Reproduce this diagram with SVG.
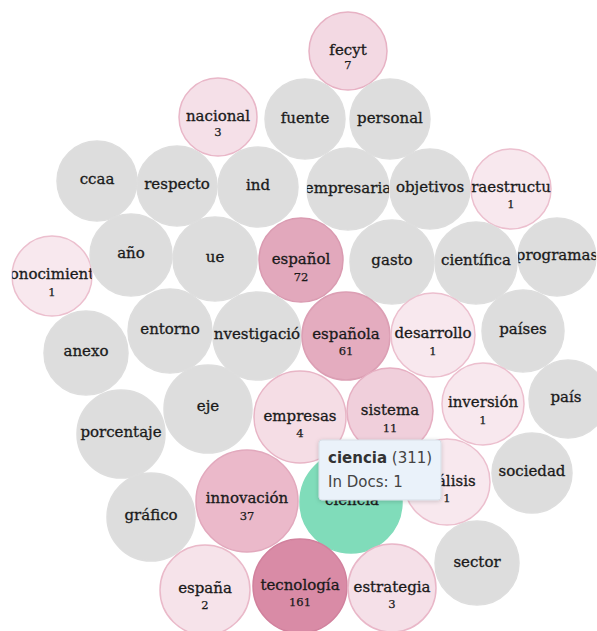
<svg xmlns="http://www.w3.org/2000/svg" width="597" height="631" viewBox="0 0 597 631">
  <style>
    .node circle { stroke-width: 1.5; }
    .g { fill: #dddddd; stroke: #dedede; }
    .c1 { fill: #f8e8ee; stroke: #ecbfce; }
    .c2 { fill: #f6e3ea; stroke: #eab9c9; }
    .c3 { fill: #f5e0e8; stroke: #e9b7c8; }
    .c4 { fill: #f5dde5; stroke: #e8b5c6; }
    .c7 { fill: #f3d9e3; stroke: #e7b2c4; }
    .c11 { fill: #f0cfdb; stroke: #e6afc2; }
    .c37 { fill: #ebb9ca; stroke: #e2a9bd; }
    .c61 { fill: #e4acbf; stroke: #dc9fb4; }
    .c72 { fill: #e2a8bc; stroke: #da9bb1; }
    .c161 { fill: #d98ba6; stroke: #d1819d; }
    .sel { fill: #80dcba; stroke: #80dcba; }
    .lbl { font-family: "DejaVu Serif", "Liberation Serif", serif; font-size: 15px; fill: #1a1a1a; stroke: #1a1a1a; stroke-width: 0.3; text-anchor: middle; }
    .cnt { font-family: "DejaVu Serif", "Liberation Serif", serif; font-size: 11.5px; fill: #1a1a1a; stroke: #1a1a1a; stroke-width: 0.25; text-anchor: middle; }
    .tip { font-family: "DejaVu Sans", "Liberation Sans", sans-serif; font-size: 15px; fill: #444; }
  </style>
  <defs>
    <clipPath id="clip-conocimiento"><circle cx="52" cy="276" r="40"/></clipPath>
    <clipPath id="clip-infraestructura"><circle cx="511" cy="189" r="40"/></clipPath>
    <clipPath id="clip-investigacion"><circle cx="257" cy="336" r="44"/></clipPath>
    <clipPath id="clip-programas"><circle cx="557" cy="257" r="39"/></clipPath>
    <clipPath id="clip-empresaria"><circle cx="348" cy="189" r="41"/></clipPath>
    <filter id="tip-shadow" x="-10%" y="-10%" width="130%" height="140%">
      <feDropShadow dx="0" dy="1" stdDeviation="2" flood-color="#000" flood-opacity="0.18"/>
    </filter>
  </defs>

  <!-- bubbles -->
  <g id="nodes">
    <g id="n-fecyt" class="node"><circle class="c7" cx="348" cy="51" r="39"/><text class="lbl" x="348" y="55">fecyt</text><text class="cnt" x="348" y="69">7</text></g>
    <g id="n-nacional" class="node"><circle class="c3" cx="218" cy="117" r="39"/><text class="lbl" x="218" y="121">nacional</text><text class="cnt" x="218" y="136">3</text></g>
    <g id="n-fuente" class="node"><circle class="g" cx="305" cy="119" r="40"/><text class="lbl" x="305" y="123">fuente</text></g>
    <g id="n-personal" class="node"><circle class="g" cx="390" cy="119" r="40"/><text class="lbl" x="390" y="123">personal</text></g>
    <g id="n-ccaa" class="node"><circle class="g" cx="97" cy="181" r="40"/><text class="lbl" x="97" y="184">ccaa</text></g>
    <g id="n-respecto" class="node"><circle class="g" cx="177" cy="186" r="40"/><text class="lbl" x="177" y="189">respecto</text></g>
    <g id="n-ind" class="node"><circle class="g" cx="258" cy="187" r="40"/><text class="lbl" x="258" y="190">ind</text></g>
    <g id="n-empresaria" class="node"><circle class="g" cx="348" cy="189" r="41"/><text class="lbl" x="348" y="193" clip-path="url(#clip-empresaria)">empresaria</text></g>
    <g id="n-objetivos" class="node"><circle class="g" cx="430" cy="189" r="40"/><text class="lbl" x="430" y="192">objetivos</text></g>
    <g id="n-infraestructura" class="node"><circle class="c1" cx="511" cy="189" r="40"/><text class="lbl" x="511" y="192" clip-path="url(#clip-infraestructura)">raestructu</text><text class="cnt" x="511" y="208">1</text></g>
    <g id="n-conocimiento" class="node"><circle class="c1" cx="52" cy="276" r="40"/><text class="lbl" x="52" y="279" clip-path="url(#clip-conocimiento)">onocimient</text><text class="cnt" x="52" y="296">1</text></g>
    <g id="n-ano" class="node"><circle class="g" cx="131" cy="255" r="41"/><text class="lbl" x="131" y="258">año</text></g>
    <g id="n-ue" class="node"><circle class="g" cx="215" cy="259" r="42"/><text class="lbl" x="215" y="262">ue</text></g>
    <g id="n-espanol" class="node"><circle class="c72" cx="301" cy="260" r="42"/><text class="lbl" x="301" y="264">español</text><text class="cnt" x="301" y="281">72</text></g>
    <g id="n-gasto" class="node"><circle class="g" cx="392" cy="262" r="42"/><text class="lbl" x="392" y="265">gasto</text></g>
    <g id="n-cientifica" class="node"><circle class="g" cx="476" cy="263" r="41"/><text class="lbl" x="476" y="265">científica</text></g>
    <g id="n-programas" class="node"><circle class="g" cx="557" cy="257" r="39"/><text class="lbl" x="557" y="260" clip-path="url(#clip-programas)">programas</text></g>
    <g id="n-anexo" class="node"><circle class="g" cx="86" cy="353" r="42"/><text class="lbl" x="86" y="356">anexo</text></g>
    <g id="n-entorno" class="node"><circle class="g" cx="170" cy="331" r="42"/><text class="lbl" x="170" y="334">entorno</text></g>
    <g id="n-investigacion" class="node"><circle class="g" cx="257" cy="336" r="44"/><text class="lbl" x="257" y="339" clip-path="url(#clip-investigacion)">nvestigació</text></g>
    <g id="n-espanola" class="node"><circle class="c61" cx="346" cy="336" r="44"/><text class="lbl" x="346" y="339">española</text><text class="cnt" x="346" y="355">61</text></g>
    <g id="n-desarrollo" class="node"><circle class="c1" cx="433" cy="335" r="42"/><text class="lbl" x="433" y="338">desarrollo</text><text class="cnt" x="433" y="355">1</text></g>
    <g id="n-paises" class="node"><circle class="g" cx="523" cy="331" r="41"/><text class="lbl" x="523" y="334">países</text></g>
    <g id="n-eje" class="node"><circle class="g" cx="208" cy="409" r="44"/><text class="lbl" x="208" y="411">eje</text></g>
    <g id="n-porcentaje" class="node"><circle class="g" cx="121" cy="434" r="44"/><text class="lbl" x="121" y="437">porcentaje</text></g>
    <g id="n-empresas" class="node"><circle class="c4" cx="300" cy="417" r="46"/><text class="lbl" x="300" y="421">empresas</text><text class="cnt" x="300" y="437">4</text></g>
    <g id="n-sistema" class="node"><circle class="c11" cx="390" cy="411" r="43"/><text class="lbl" x="390" y="415">sistema</text><text class="cnt" x="390" y="432">11</text></g>
    <g id="n-inversion" class="node"><circle class="c1" cx="483" cy="404" r="41"/><text class="lbl" x="483" y="407">inversión</text><text class="cnt" x="483" y="424">1</text></g>
    <g id="n-pais" class="node"><circle class="g" cx="568" cy="399" r="39"/><text class="lbl" x="566" y="402">país</text></g>
    <g id="n-sociedad" class="node"><circle class="g" cx="532" cy="473" r="40"/><text class="lbl" x="532" y="476">sociedad</text></g>
    <g id="n-analisis" class="node"><circle class="c1" cx="447" cy="482" r="43"/><text class="lbl" x="447" y="486">análisis</text><text class="cnt" x="447" y="502">1</text></g>
    <g id="n-ciencia" class="node"><circle class="sel" cx="351" cy="502" r="51"/><text class="lbl" x="352" y="505">ciencia</text></g>
    <g id="n-grafico" class="node"><circle class="g" cx="151" cy="517" r="44"/><text class="lbl" x="151" y="520">gráfico</text></g>
    <g id="n-innovacion" class="node"><circle class="c37" cx="247" cy="501" r="51"/><text class="lbl" x="247" y="503">innovación</text><text class="cnt" x="247" y="520">37</text></g>
    <g id="n-sector" class="node"><circle class="g" cx="477" cy="563" r="42"/><text class="lbl" x="477" y="567">sector</text></g>
    <g id="n-espana" class="node"><circle class="c2" cx="205" cy="590" r="45"/><text class="lbl" x="205" y="593">españa</text><text class="cnt" x="205" y="609">2</text></g>
    <g id="n-tecnologia" class="node"><circle class="c161" cx="300" cy="586" r="47"/><text class="lbl" x="300" y="590">tecnología</text><text class="cnt" x="300" y="606">161</text></g>
    <g id="n-estrategia" class="node"><circle class="c3" cx="392" cy="588" r="44"/><text class="lbl" x="392" y="592">estrategia</text><text class="cnt" x="392" y="608">3</text></g>
  </g>

  <!-- hover tooltip over the selected bubble -->
  <g id="tooltip">
    <rect x="319" y="440" width="122" height="60" rx="3" fill="#eaf2fa" stroke="#d7dee6" filter="url(#tip-shadow)"/>
    <text class="tip" x="328" y="463"><tspan font-weight="bold" fill="#333">ciencia</tspan> (311)</text>
    <text class="tip" x="328" y="487">In Docs: 1</text>
  </g>
</svg>
